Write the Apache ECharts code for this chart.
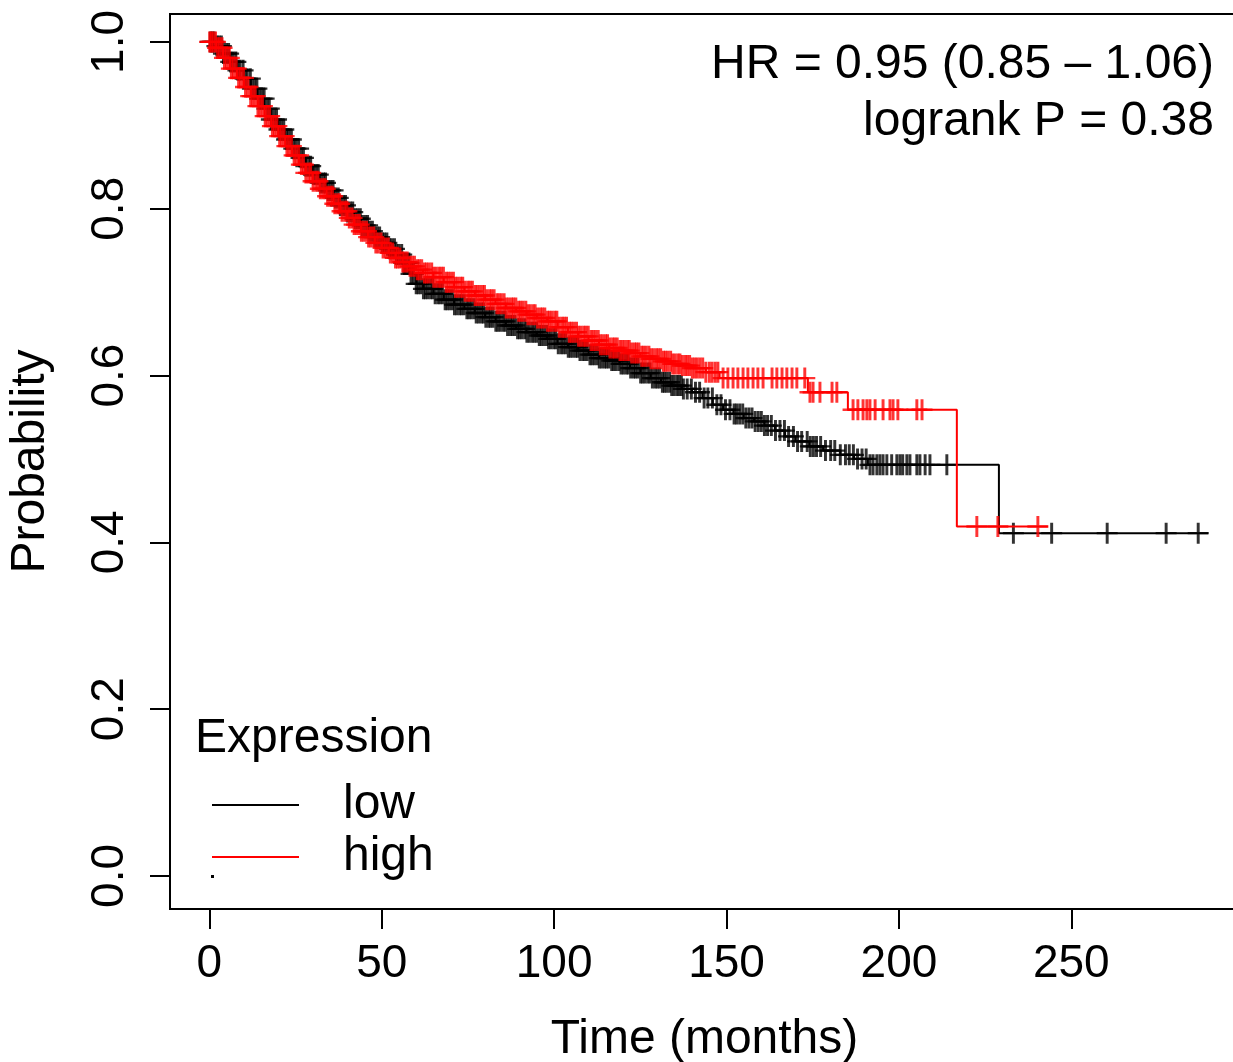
<!DOCTYPE html>
<html>
<head>
<meta charset="utf-8">
<script src="https://cdn.jsdelivr.net/npm/echarts@6/dist/echarts.min.js"></script>
<style>
html,body{margin:0;padding:0;background:#fff;overflow:hidden;}
#chart{width:1250px;height:1062px;}
</style>
</head>
<body>
<div id="chart"></div>
<script>
// ---- data ----
const xTicks = [0, 50, 100, 150, 200, 250];
const yTicks = [0, 0.2, 0.4, 0.6, 0.8, 1.0];
const groups = ['low', 'high'];

// Kaplan-Meier step knots (time in months, survival probability)
const lowTime = [0, 2, 4, 6, 8, 10, 12, 14, 16, 18, 20, 22, 24, 26, 28, 30, 32, 34, 36, 38, 40, 42, 44, 46, 48, 50, 52, 54, 56, 58, 60, 62, 65, 68, 71, 74, 77, 80, 83, 86, 89, 92, 95, 98, 101, 104, 107, 110, 113, 116, 119, 122, 125, 128, 131, 134, 137, 140, 143, 146, 149, 152, 155, 158, 161, 164, 167, 170, 174, 178, 183, 187, 191, 229];
const lowSurv = [1.0, .995, .986, .976, .966, .956, .944, .932, .92, .907, .895, .883, .872, .861, .851, .841, .831, .822, .813, .804, .796, .788, .78, .773, .766, .759, .752, .745, .735, .722, .71, .704, .698, .691, .685, .68, .675, .67, .665, .66, .656, .652, .648, .644, .638, .634, .63, .625, .621, .618, .614, .609, .603, .597, .592, .588, .584, .58, .573, .565, .559, .554, .549, .545, .54, .534, .527, .521, .515, .51, .505, .5, .493, .411];
const lowEnd = 289.7;

const highTime = [0, 2, 4, 6, 8, 10, 12, 14, 16, 18, 20, 22, 24, 26, 28, 30, 32, 34, 36, 38, 40, 42, 44, 46, 48, 50, 52, 54, 56, 58, 60, 62, 65, 68, 71, 74, 77, 80, 83, 86, 89, 92, 95, 98, 101, 104, 107, 110, 113, 116, 119, 122, 125, 128, 131, 134, 137, 140, 144, 148, 173.6, 185.2, 216.8];
const highSurv = [1.0, .993, .981, .968, .957, .946, .935, .923, .911, .899, .887, .875, .864, .853, .843, .833, .824, .815, .806, .797, .789, .781, .773, .766, .759, .753, .747, .741, .736, .731, .727, .723, .718, .712, .706, .701, .696, .691, .686, .681, .677, .673, .669, .665, .658, .652, .647, .642, .637, .633, .63, .627, .623, .62, .617, .614, .612, .609, .604, .597, .58, .559, .419];
const highEnd = 243.2;

// censoring times (months)
const lowCens = [0.3, 0.9, 1.4, 2.2, 2.8, 3.5, 4.1, 4.9, 5.6, 6.2, 6.9, 7.7, 8.3, 8.9, 9.8, 10.4, 11.0, 11.9, 12.5, 13.2, 13.8, 14.6, 15.3, 15.9, 16.7, 17.4, 18.0, 18.8, 19.5, 20.2, 20.9, 21.6, 22.4, 23.0, 23.8, 24.5, 25.1, 25.9, 26.6, 27.3, 28.0, 28.8, 29.4, 30.2, 30.9, 31.6, 32.3, 33.1, 33.7, 34.5, 35.2, 35.9, 36.6, 37.4, 38.0, 38.8, 39.5, 40.1, 40.9, 41.6, 42.3, 43.0, 43.8, 44.4, 45.2, 45.9, 46.5, 47.3, 48.0, 48.7, 49.4, 50.2, 50.8, 51.5, 52.3, 52.9, 53.7, 54.3, 55.0, 55.8, 56.4, 57.1, 57.9, 58.5, 59.2, 60.0, 60.6, 61.3, 62.1, 62.7, 63.4, 64.2, 64.8, 65.5, 66.3, 66.9, 67.6, 68.4, 69.0, 69.7, 70.5, 71.1, 71.8, 72.6, 73.2, 73.9, 74.7, 75.3, 76.0, 76.8, 77.4, 78.1, 78.9, 79.5, 80.2, 81.0, 81.6, 82.3, 83.1, 83.7, 84.4, 85.2, 85.8, 86.5, 87.3, 87.9, 88.6, 89.4, 90.0, 90.7, 91.5, 92.1, 92.8, 93.6, 94.2, 94.9, 95.7, 96.3, 97.0, 97.8, 98.4, 99.1, 99.9, 100.5, 101.2, 102.0, 102.6, 103.3, 104.1, 104.7, 105.4, 106.2, 106.8, 107.5, 108.3, 108.9, 109.6, 110.4, 111.0, 111.7, 112.5, 113.1, 113.8, 114.6, 115.2, 115.9, 116.7, 117.3, 118.0, 118.8, 119.4, 120.1, 120.9, 121.5, 122.2, 123.0, 123.6, 124.3, 125.1, 125.7, 126.4, 127.2, 127.8, 128.5, 129.3, 129.9, 130.6, 131.4, 132.0, 132.7, 133.5, 134.1, 134.8, 135.6, 136.2, 136.9, 137.5, 138.6, 139.8, 141.0, 142.2, 143.5, 144.6, 145.9, 147.2, 148.4, 149.7, 151.0, 152.2, 152.9, 153.8, 154.7, 155.6, 156.5, 157.4, 158.3, 159.2, 160.1, 161.0, 161.9, 163.0, 164.2, 165.5, 166.8, 168.0, 169.4, 170.6, 171.8, 173.4, 174.3, 175.2, 176.1, 177.3, 178.7, 180.2, 181.4, 183.0, 184.5, 185.6, 186.8, 188.0, 189.3, 190.5, 191.6, 192.5, 193.6, 194.5, 195.4, 196.5, 197.9, 199.4, 200.3, 201.1, 202.3, 203.2, 205.2, 206.1, 207.6, 209.0, 213.9, 233.2, 244.3, 260.4, 277.5, 286.8];
const highCens = [0.1, 0.6, 1.1, 1.8, 2.4, 3.0, 3.7, 4.4, 5.0, 5.8, 6.4, 7.0, 7.8, 8.5, 9.1, 9.9, 10.5, 11.2, 12.0, 12.6, 13.3, 14.1, 14.7, 15.4, 16.2, 16.8, 17.5, 18.3, 18.9, 19.6, 20.4, 21.0, 21.7, 22.5, 23.1, 23.8, 24.6, 25.2, 25.9, 26.7, 27.3, 28.0, 28.8, 29.4, 30.1, 30.9, 31.5, 32.2, 33.0, 33.6, 34.3, 35.1, 35.7, 36.4, 37.2, 37.8, 38.5, 39.3, 39.9, 40.6, 41.4, 42.0, 42.7, 43.5, 44.1, 44.8, 45.6, 46.2, 46.9, 47.7, 48.3, 49.0, 49.8, 50.4, 51.1, 51.9, 52.5, 53.2, 54.0, 54.6, 55.3, 56.1, 56.7, 57.4, 58.2, 58.8, 59.5, 60.3, 60.9, 61.6, 62.4, 63.0, 63.7, 64.5, 65.1, 65.8, 66.6, 67.2, 67.9, 68.7, 69.3, 70.0, 70.8, 71.4, 72.1, 72.9, 73.5, 74.2, 75.0, 75.6, 76.3, 77.1, 77.7, 78.4, 79.2, 79.8, 80.5, 81.3, 81.9, 82.6, 83.4, 84.0, 84.7, 85.5, 86.1, 86.8, 87.6, 88.2, 88.9, 89.7, 90.3, 91.0, 91.8, 92.4, 93.1, 93.9, 94.5, 95.2, 96.0, 96.6, 97.3, 98.1, 98.7, 99.4, 100.2, 100.8, 101.5, 102.3, 102.9, 103.6, 104.4, 105.0, 105.7, 106.5, 107.1, 107.8, 108.6, 109.2, 109.9, 110.7, 111.3, 112.0, 112.8, 113.4, 114.1, 114.9, 115.5, 116.2, 117.0, 117.6, 118.3, 119.1, 119.7, 120.4, 121.2, 121.8, 122.5, 123.3, 123.9, 124.6, 125.4, 126.0, 126.7, 127.5, 128.1, 128.8, 129.6, 130.2, 130.9, 131.7, 132.3, 133.0, 133.8, 134.4, 135.1, 135.9, 136.5, 137.2, 138.0, 138.6, 139.3, 140.1, 140.8, 141.5, 142.3, 143.1, 144.0, 145.0, 145.8, 146.7, 147.5, 149.0, 150.4, 151.9, 153.3, 154.8, 156.2, 157.7, 159.1, 160.6, 163.2, 164.6, 166.1, 167.5, 169.0, 170.4, 172.7, 174.2, 175.1, 177.1, 180.6, 182.0, 186.7, 188.1, 189.6, 190.7, 191.6, 193.1, 195.4, 197.4, 198.3, 199.7, 205.2, 206.7, 222.6, 228.7, 240.3];

const hrText = 'HR = 0.95 (0.85 \u2013 1.06)';
const pText = 'logrank P = 0.38';
const legendTitle = 'Expression';
const xName = 'Time (months)';
const yName = 'Probability';

// ---- helpers ----
const FONT = '"Liberation Sans", Arial, Helvetica, sans-serif';
function stepAt(times, surv, t) {
  let s = surv[0];
  for (let i = 0; i < times.length; i++) { if (times[i] <= t) s = surv[i]; else break; }
  return s;
}
function curve(times, surv, end) {
  const d = times.map((t, i) => [t, surv[i]]);
  d.push([end, surv[surv.length - 1]]);
  return d;
}
function marks(cens, times, surv) {
  return cens.map(t => [t, stepAt(times, surv, t)]);
}
const PLUS = 'path://M8.6,0 L11.4,0 L11.4,20 L8.6,20 Z M0,8.9 L20,8.9 L20,11.1 L0,11.1 Z';

const chart = echarts.init(document.getElementById('chart'), null, {renderer: 'canvas'});
chart.setOption({
  animation: false,
  backgroundColor: '#ffffff',
  grid: {
    left: 170, top: 14, width: 1069, height: 895,
    show: true, borderColor: '#000', borderWidth: 2, backgroundColor: 'transparent',
    outerBoundsMode: 'none'
  },
  xAxis: {
    type: 'value', min: -11.40, max: 298.63,
    axisLine: {show: false, onZero: false},
    splitLine: {show: false},
    axisTick: {show: true, inside: false, customValues: xTicks, length: 20, lineStyle: {color: '#000', width: 2}},
    axisLabel: {customValues: xTicks, margin: 32, fontSize: 46, color: '#000', fontFamily: FONT},
    name: xName, nameLocation: 'middle', nameGap: 107,
    nameTextStyle: {fontSize: 48, color: '#000', fontFamily: FONT}
  },
  yAxis: {
    type: 'value', min: -0.0396, max: 1.0335,
    axisLine: {show: false, onZero: false},
    splitLine: {show: false},
    axisTick: {show: true, inside: false, customValues: yTicks, length: 20, lineStyle: {color: '#000', width: 2}},
    axisLabel: {customValues: yTicks, rotate: 90, margin: 37, fontSize: 46, color: '#000', fontFamily: FONT,
      formatter: v => Number(v).toFixed(1)},
    name: yName, nameLocation: 'middle', nameGap: 115,
    nameTextStyle: {fontSize: 48, color: '#000', fontFamily: FONT}
  },
  legend: {
    data: groups,
    orient: 'vertical', left: 212, top: 781, padding: 0,
    icon: 'rect', itemWidth: 87, itemHeight: 2, itemGap: 4,
    textStyle: {fontSize: 48, color: '#000', fontFamily: FONT, padding: [0, 0, 0, 39]},
    selectedMode: false
  },
  graphic: [
    {type: 'text', x: 1214, y: 65, style: {text: hrText, textAlign: 'right', textVerticalAlign: 'middle', font: '48px ' + FONT, fill: '#000'}},
    {type: 'text', x: 1214, y: 122, style: {text: pText, textAlign: 'right', textVerticalAlign: 'middle', font: '48px ' + FONT, fill: '#000'}},
    {type: 'text', x: 195, y: 739, style: {text: legendTitle, textAlign: 'left', textVerticalAlign: 'middle', font: '48px ' + FONT, fill: '#000'}},
    {type: 'rect', shape: {x: 211, y: 875, width: 3, height: 3}, style: {fill: '#000'}}
  ],
  series: [
    {name: 'low', type: 'line', step: 'end', showSymbol: false, symbol: 'none',
      data: curve(lowTime, lowSurv, lowEnd),
      itemStyle: {color: '#000'}, lineStyle: {color: '#000', width: 2}, z: 2},
    {name: 'low censored', type: 'scatter', symbol: PLUS, symbolSize: 21,
      data: marks(lowCens, lowTime, lowSurv), itemStyle: {color: '#000'}, z: 2},
    {name: 'high', type: 'line', step: 'end', showSymbol: false, symbol: 'none',
      data: curve(highTime, highSurv, highEnd),
      itemStyle: {color: '#ff0000'}, lineStyle: {color: '#ff0000', width: 2}, z: 3},
    {name: 'high censored', type: 'scatter', symbol: PLUS, symbolSize: 21,
      data: marks(highCens, highTime, highSurv), itemStyle: {color: '#ff0000'}, z: 3}
  ]
});
</script>
</body>
</html>
